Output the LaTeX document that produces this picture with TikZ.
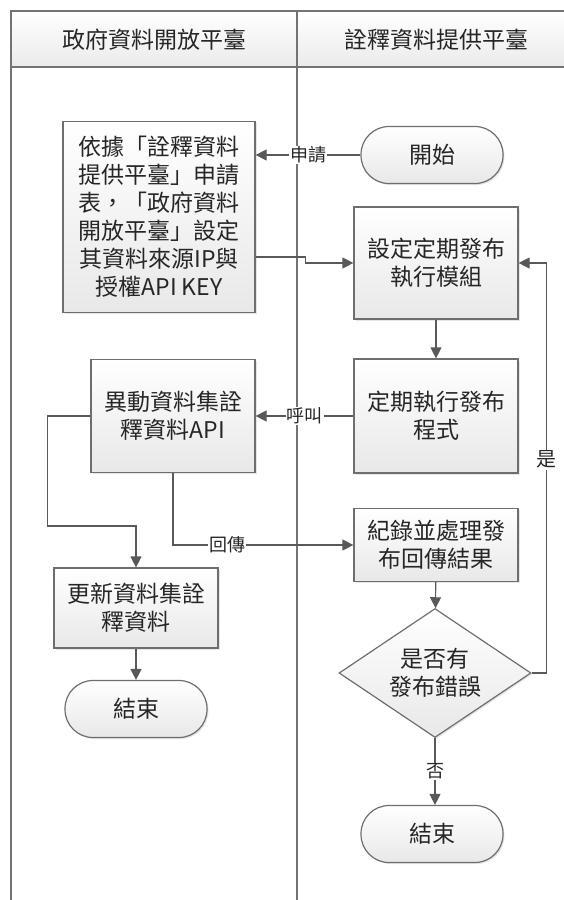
\documentclass[tikz,border=0pt]{standalone}
\usepackage{fontspec}
\setmainfont{Noto Sans CJK TC}
\usetikzlibrary{arrows.meta,positioning,shapes.geometric,shadows}
\definecolor{linegray}{HTML}{595959}
\definecolor{boxgray}{HTML}{6E6E6E}
\definecolor{txtgray}{HTML}{262626}

\begin{document}
\begin{tikzpicture}[x=1pt,y=-1pt,>={Triangle[length=11pt,width=11pt]},
  every node/.style={text=txtgray},
  proc node/.style={rectangle,draw=boxgray,line width=1.2pt,top color=white,bottom color=black!9,
    drop shadow={opacity=0.2,shadow xshift=1.5pt,shadow yshift=-1.5pt},
    align=center,font=\fontsize{23}{28}\selectfont,inner sep=0pt,minimum width=164pt},
  term node/.style={proc node,rounded corners=28pt,minimum width=142pt,minimum height=57pt},
  dec node/.style={proc node,diamond,aspect=1.5,minimum width=192pt,minimum height=129pt},
  lane line/.style={draw=black!55,line width=1.8pt},
  flow/.style={->,draw=linegray,line width=1.2pt},
  lbl node/.style={fill=white,inner sep=1pt,font=\fontsize{18}{20}\selectfont}]

  \useasboundingbox (0,0) rectangle (564,900);

  % swimlanes
  \fill[top color=white,bottom color=black!8] (11,11) rectangle (580,67);
  \draw[lane line] (11,905) -- (11,11) -- (580,11);
  \draw[lane line] (11,67) -- (580,67);
  \draw[lane line] (297,11) -- (297,905);
  \node[font=\fontsize{23}{28}\selectfont] (h1) at (154,40) {政府資料開放平臺};
  \node[font=\fontsize{23}{28}\selectfont] (h2) at (436,40) {詮釋資料提供平臺};

  \node[proc node,minimum width=192pt,minimum height=191pt] (1) at (159,217)
    {依據「詮釋資料\\提供平臺」申請\\表，「政府資料\\開放平臺」設定\\其資料來源IP與\\授權API KEY};
  \node[term node] (2) at (432,155) {開始};
  \node[proc node,minimum height=112pt] (3) at (436,263) {設定定期發布\\執行模組};
  \node[proc node,minimum height=114pt] (4) at (436,416) {定期執行發布\\程式};
  \node[proc node,minimum height=113pt] (5) at (173,416) {異動資料集詮\\釋資料API};
  \node[proc node,minimum height=80pt] (6) at (136,608) {更新資料集詮\\釋資料};
  \node[term node] (7) at (136,709) {結束};
  \node[proc node,minimum height=73pt] (8) at (436,545) {紀錄並處理發\\布回傳結果};
  \node[dec node] (9) at (435,673) {是否有\\發布錯誤};
  \node[term node] (10) at (432,834) {結束};

  \draw[flow] (2.west) -- node[lbl node] {申請} (2.west -| 1.east);
  \draw[flow] ([yshift=-40pt]1.east) -- ++(50,0) |- (3.west);
  \draw[flow] (3) -- (4);
  \draw[flow] (4) -- node[lbl node] {呼叫} (5);
  \draw[flow] (5.west) -| ++(-43,110) -| (6.north);
  \draw[flow] (5.south) |- node[lbl node,pos=0.65] {回傳} (8.west);
  \draw[flow] (6) -- (7);
  \draw[flow] (8) -- (9);
  \draw[flow] (9.east) -- ++(15,0) |- node[lbl node,pos=0.26,font=\fontsize{20}{22}\selectfont] {是} (3.east);
  \draw[flow] (9.south) -- node[lbl node] {否} (9.south |- 10.north);

\end{tikzpicture}
\end{document}
